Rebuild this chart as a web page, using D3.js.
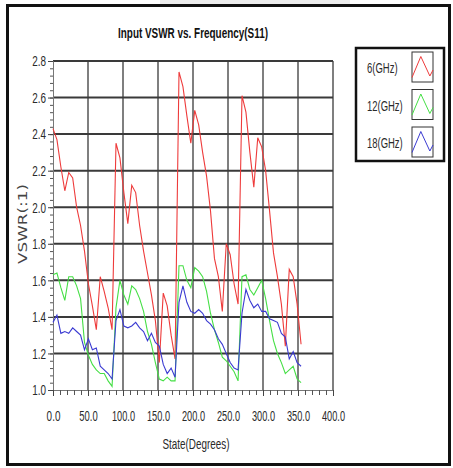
<!DOCTYPE html>
<html lang="en">
<head>
<meta charset="utf-8">
<title>Input VSWR vs. Frequency(S11)</title>
<script src="https://d3js.org/d3.v7.min.js"></script>
<style>
  body { margin: 0; background: #fff; }
  text { font-family: "Liberation Sans", Arial, sans-serif; fill: #2a2a2a; }
</style>
</head>
<body>
<script>
// 6-bit phase shifter states, 5.625 deg step
var stepDeg = 5.625;
var states = d3.range(64).map(function(i) { return i * stepDeg; });

var vswr6 = [2.43, 2.37, 2.22, 2.09, 2.19, 2.16, 2.00, 1.90, 1.76, 1.58, 1.46, 1.33,
  1.62, 1.54, 1.45, 1.33, 2.35, 2.27, 2.08, 1.91, 2.12, 2.08, 1.90, 1.76,
  1.64, 1.52, 1.38, 1.15, 1.53, 1.46, 1.30, 1.17, 2.74, 2.66, 2.50, 2.35,
  2.53, 2.45, 2.30, 2.17, 1.98, 1.72, 1.62, 1.43, 1.80, 1.74, 1.58, 1.47,
  2.61, 2.52, 2.30, 2.11, 2.38, 2.33, 2.20, 1.98, 1.75, 1.62, 1.47, 1.24,
  1.66, 1.62, 1.47, 1.25];
var vswr12 = [1.63, 1.64, 1.56, 1.49, 1.62, 1.62, 1.57, 1.50, 1.26, 1.19, 1.14, 1.11,
  1.09, 1.09, 1.05, 1.02, 1.45, 1.60, 1.52, 1.47, 1.57, 1.55, 1.50, 1.43,
  1.32, 1.25, 1.15, 1.06, 1.05, 1.07, 1.05, 1.05, 1.68, 1.68, 1.60, 1.56,
  1.67, 1.65, 1.62, 1.54, 1.42, 1.33, 1.26, 1.18, 1.16, 1.13, 1.10, 1.05,
  1.62, 1.63, 1.55, 1.52, 1.56, 1.60, 1.50, 1.38, 1.27, 1.20, 1.15, 1.09,
  1.11, 1.13, 1.06, 1.04];
var vswr18 = [1.37, 1.41, 1.31, 1.32, 1.31, 1.34, 1.32, 1.30, 1.22, 1.28, 1.22, 1.23,
  1.13, 1.11, 1.09, 1.06, 1.38, 1.44, 1.35, 1.34, 1.35, 1.37, 1.34, 1.32,
  1.27, 1.31, 1.26, 1.24, 1.14, 1.09, 1.12, 1.07, 1.48, 1.57, 1.48, 1.43,
  1.42, 1.44, 1.42, 1.38, 1.36, 1.33, 1.28, 1.25, 1.20, 1.15, 1.12, 1.11,
  1.42, 1.55, 1.49, 1.45, 1.47, 1.43, 1.43, 1.39, 1.38, 1.37, 1.31, 1.29,
  1.17, 1.21, 1.15, 1.13];

var seriesNames = ["6(GHz)", "12(GHz)", "18(GHz)"];
var seriesColors = ["#ee3b3b", "#45df45", "#3b3bd2"];
var seriesData = [vswr6, vswr12, vswr18];

var xMajor = d3.range(0, 401, 50);
var yMajor = [1.0, 1.2, 1.4, 1.6, 1.8, 2.0, 2.2, 2.4, 2.6, 2.8];

var width = 453, height = 468;

// condensed look: squeeze text to a fixed width per character
function narrow(sel, per) {
    sel.attr("textLength", function() { return this.textContent.length * per; })
       .attr("lengthAdjust", "spacingAndGlyphs");
}

var svg = d3.select("body").append("svg")
    .attr("width", width)
    .attr("height", height);

// faint header strip above the frame
svg.append("rect")
    .attr("x", 160).attr("y", 0).attr("width", 190).attr("height", 13)
    .attr("fill", "#ececec");

// outer frame
svg.append("rect")
    .attr("x", 7.5).attr("y", 5.5).attr("width", 442).attr("height", 459)
    .attr("fill", "#fff")
    .attr("stroke", "#111")
    .attr("stroke-width", 3);

var x = d3.scaleLinear().domain([0, 400]).range([53, 333]);
var y = d3.scaleLinear().domain([1.0, 2.8]).range([390, 61]);

// grid
svg.append("g").selectAll("line")
    .data(xMajor.slice(1))
    .enter().append("line")
    .attr("x1", function(d) { return x(d); })
    .attr("x2", function(d) { return x(d); })
    .attr("y1", y(1.0)).attr("y2", y(2.8))
    .attr("stroke", "#555")
    .attr("stroke-width", 1.5);

svg.append("g").selectAll("line")
    .data(yMajor.slice(1))
    .enter().append("line")
    .attr("x1", x(0)).attr("x2", x(400))
    .attr("y1", function(d) { return y(d); })
    .attr("y2", function(d) { return y(d); })
    .attr("stroke", "#3a3a3a")
    .attr("stroke-width", 2);

// axes: minor ticks
var xMinor = d3.axisBottom(x).tickValues(d3.range(0, 401, 10)).tickSize(5).tickFormat("");
var yMinor = d3.axisLeft(y).tickValues(d3.range(1.0, 2.801, 0.04)).tickSize(3).tickFormat("");

svg.append("g").attr("transform", "translate(0," + y(1.0) + ")").call(xMinor)
    .call(function(g) { g.select(".domain").attr("stroke", "#777"); })
    .selectAll("line").attr("stroke", "#555");
svg.append("g").attr("transform", "translate(" + x(0) + ",0)").call(yMinor)
    .call(function(g) { g.select(".domain").attr("stroke", "#777"); })
    .selectAll("line").attr("stroke", "#555");

// axes: major ticks + labels
var xAxis = d3.axisBottom(x).tickValues(xMajor).tickSize(6).tickPadding(14)
    .tickFormat(d3.format(".1f"));
var yAxis = d3.axisLeft(y).tickValues(yMajor).tickSize(5).tickPadding(2)
    .tickFormat(d3.format(".1f"));

var gx = svg.append("g").attr("transform", "translate(0," + y(1.0) + ")").call(xAxis);
gx.select(".domain").remove();
gx.selectAll("line").attr("stroke", "#444");
gx.selectAll("text").attr("font-size", 15).attr("font-family", null).call(narrow, 4.6);

var gy = svg.append("g").attr("transform", "translate(" + x(0) + ",0)").call(yAxis);
gy.select(".domain").remove();
gy.selectAll("line").attr("stroke", "#444");
gy.selectAll("text").attr("font-size", 15).attr("font-family", null).call(narrow, 4.6);

// series lines
var line = d3.line()
    .x(function(d, i) { return x(states[i]); })
    .y(function(d) { return y(d); });

seriesData.forEach(function(vals, k) {
    svg.append("path")
        .datum(vals)
        .attr("d", line)
        .attr("fill", "none")
        .attr("stroke", seriesColors[k])
        .attr("stroke-width", 1.1);
});

// titles
svg.append("text")
    .attr("x", 193).attr("y", 38)
    .attr("text-anchor", "middle")
    .attr("font-size", 15)
    .attr("font-weight", "bold")
    .attr("textLength", 150)
    .attr("lengthAdjust", "spacingAndGlyphs")
    .style("fill", "#111")
    .text("Input VSWR vs. Frequency(S11)");

svg.append("text")
    .attr("transform", "translate(27,224) rotate(-90)")
    .attr("text-anchor", "middle")
    .attr("font-size", 13)
    .attr("textLength", 80)
    .attr("lengthAdjust", "spacingAndGlyphs")
    .style("font-family", "'DejaVu Sans', Verdana, sans-serif")
    .style("fill", "#444")
    .text("VSWR(:1)");

svg.append("text")
    .attr("x", 196).attr("y", 449)
    .attr("text-anchor", "middle")
    .attr("font-size", 15)
    .attr("textLength", 67)
    .attr("lengthAdjust", "spacingAndGlyphs")
    .text("State(Degrees)");

// legend
var legend = svg.append("g");
legend.append("rect")
    .attr("x", 356).attr("y", 48).attr("width", 88).attr("height", 113)
    .attr("fill", "#fff")
    .attr("stroke", "#111")
    .attr("stroke-width", 2.5);

var swatch = d3.scaleLinear().domain([0, 1]);
seriesNames.forEach(function(name, k) {
    var top = 52 + k * 37.5;
    legend.append("text")
        .attr("x", 367).attr("y", top + 21)
        .attr("font-size", 15)
        .text(name)
        .call(narrow, 5.1);
    legend.append("rect")
        .attr("x", 412).attr("y", top).attr("width", 21).attr("height", 30)
        .attr("fill", "#fff")
        .attr("stroke", "#333")
        .attr("stroke-width", 1);
    var sx = swatch.copy().range([412, 433]);
    var sy = swatch.copy().range([top + 30, top]);
    legend.append("path")
        .datum([[0, 0.15], [0.42, 0.85], [0.85, 0.2], [1, 0.4]])
        .attr("d", d3.line().x(function(p) { return sx(p[0]); }).y(function(p) { return sy(p[1]); }))
        .attr("fill", "none")
        .attr("stroke", seriesColors[k])
        .attr("stroke-width", 1);
});
</script>
</body>
</html>
